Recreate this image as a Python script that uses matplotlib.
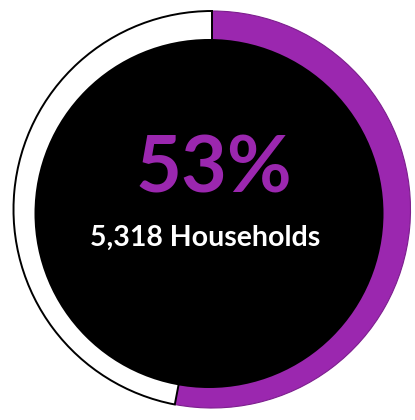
import matplotlib.pyplot as plt
from matplotlib.patches import Circle, Rectangle

plt.rcParams['hatch.color'] = '#dcdcdc'
plt.rcParams['hatch.linewidth'] = 1.2

# share of households and the count behind it
labels = ['Households', 'Other']
shares = [53, 47]
households = 5318

purple = '#9b27af'

fig = plt.figure(figsize=(4.15, 4.2), dpi=100)
ax = fig.add_axes([0, 0, 1, 1])

# faint hatched frame around the card
ax.add_patch(Rectangle((8, 3), 407, 414, facecolor='white', edgecolor='none',
                       hatch='////', zorder=0))
ax.add_patch(Rectangle((14, 10), 397, 400, facecolor='white', edgecolor='none', zorder=0.5))

wedges, _ = ax.pie(shares, labels=None, colors=[purple, 'white'],
                   startangle=90, counterclock=False,
                   center=(212, 210.5), radius=198.5,
                   wedgeprops=dict(linewidth=1.4))
wedges[0].set_edgecolor('#7d1f8e')
wedges[0].set_linewidth(0.8)
wedges[1].set_edgecolor('black')

# black disc in the middle turns the pie into a ring
ax.add_patch(Circle((209, 206.5), 174.5, facecolor='black', edgecolor='none', zorder=5))

ax.text(214, 227.5, f'{shares[0]}%', color=purple, fontsize=57, fontweight='bold',
        family='Lato', ha='center', va='baseline', zorder=6)
ax.text(205, 174.5, f'{households:,} Households', color='white', fontsize=20.5,
        fontweight='bold', family='Lato', ha='center', va='baseline', zorder=6)

ax.set_xlim(0, 415)
ax.set_ylim(0, 420)
ax.set_aspect('equal')
ax.axis('off')

fig.savefig('out.png', dpi=100)
